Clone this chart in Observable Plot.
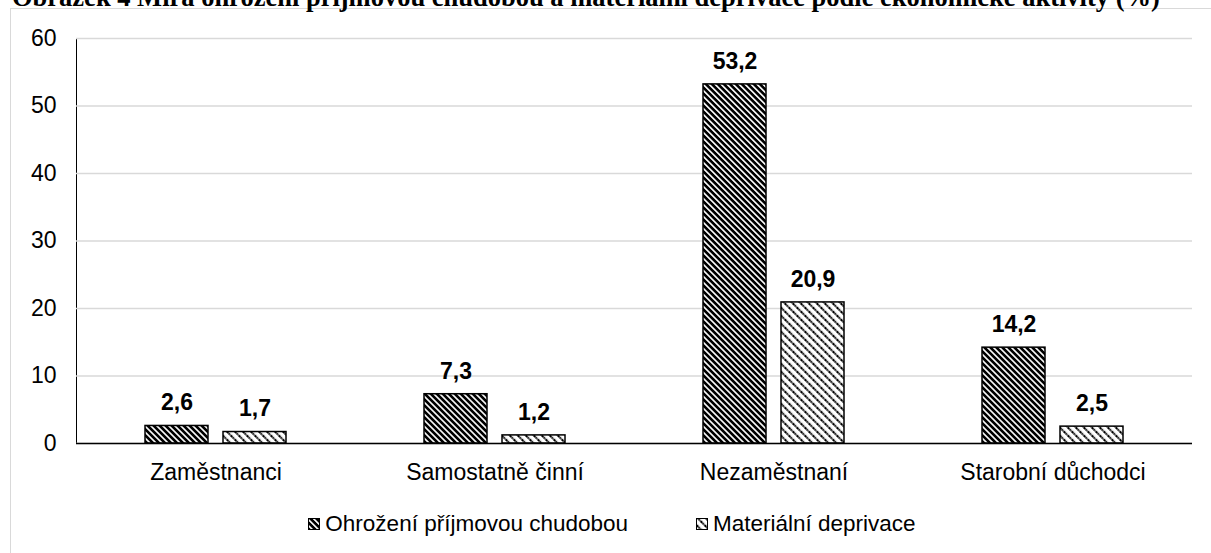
<!DOCTYPE html>
<html><head><meta charset="utf-8">
<script src="https://cdn.jsdelivr.net/npm/d3@7"></script>
<script src="https://cdn.jsdelivr.net/npm/@observablehq/plot@0.6"></script>
<style>
body{margin:0;width:1211px;height:553px;overflow:hidden;position:relative;background:#fff;font-family:"Liberation Sans",Arial,sans-serif;}
#frame{position:absolute;left:10px;top:8px;width:1300px;height:700px;border:1.5px solid #d9d9d9;box-sizing:border-box;}
#title{position:absolute;left:12px;top:-18px;font:bold 26.5px "Liberation Serif","Times New Roman",serif;white-space:nowrap;color:#000;line-height:normal;}
#chart{position:absolute;left:0;top:0;}
#legend{position:absolute;left:10px;width:1204px;top:511px;height:26px;display:flex;justify-content:center;align-items:center;gap:68px;font-size:22.5px;color:#000;}
.item{display:flex;align-items:center;}
.item svg{margin-right:5px;}
</style></head>
<body>
<svg width="0" height="0" style="position:absolute">
  <defs>
    <pattern id="pat1" width="4.24" height="4.24" patternUnits="userSpaceOnUse" patternTransform="rotate(-45)">
      <rect width="4.24" height="4.24" fill="#fff"/>
      <rect width="2.6" height="4.24" fill="#000"/>
    </pattern>
    <pattern id="pat2" width="5.66" height="5.66" patternUnits="userSpaceOnUse" patternTransform="rotate(-45)">
      <rect width="5.66" height="5.66" fill="#fff"/>
      <rect width="2" height="5.66" fill="#777"/>
      <rect width="2" height="2" fill="#000"/>
      <rect y="2.83" width="2" height="1.2" fill="#222"/>
    </pattern>
  </defs>
</svg>
<div id="frame"></div>
<div id="title">Obrázek 4 Míra ohrožení příjmovou chudobou a materiální deprivace podle ekonomické aktivity (%)</div>
<div id="chart"></div>
<div id="legend"></div>
<script>
const categories = ["Zaměstnanci", "Samostatně činní", "Nezaměstnaní", "Starobní důchodci"];
const seriesNames = ["Ohrožení příjmovou chudobou", "Materiální deprivace"];
const poverty = [2.6, 7.3, 53.2, 14.2];
const deprivation = [1.7, 1.2, 20.9, 2.5];
const yTicks = [0, 10, 20, 30, 40, 50, 60];
const patterns = ["url(#pat1)", "url(#pat2)"];

const data = categories.flatMap((c, i) => [
  {category: c, series: seriesNames[0], value: poverty[i]},
  {category: c, series: seriesNames[1], value: deprivation[i]}
]);
const fmt = v => v.toFixed(1).replace(".", ",");

const chart = Plot.plot({
  width: 1211, height: 500,
  marginLeft: 74, marginRight: 18, marginTop: 38, marginBottom: 57,
  style: {fontFamily: "'Liberation Sans', Arial, sans-serif", fontSize: "23px", color: "#000", background: "transparent", overflow: "visible"},
  fx: {domain: categories, padding: 0, label: null, tickSize: 0, tickPadding: 20},
  x: {domain: seriesNames, paddingInner: 0.19, paddingOuter: 0.867, axis: null},
  y: {domain: [0, 60], ticks: yTicks, label: null, tickSize: 0, tickPadding: 20, line: true},
  color: {domain: seriesNames, range: patterns},
  marks: [
    Plot.gridY(yTicks, {stroke: "#d9d9d9", strokeOpacity: 1, strokeWidth: 1.5}),
    Plot.barY(data, {fx: "category", x: "series", y: "value", fill: "series", stroke: "#000", strokeWidth: 1.5}),
    Plot.ruleY([0], {stroke: "#000", strokeWidth: 1.5}),
    Plot.text(data, {fx: "category", x: "series", y: "value", text: d => fmt(d.value), dy: -23, fontWeight: "bold", fontSize: 23})
  ]
});
document.getElementById("chart").appendChild(chart);

const legend = document.getElementById("legend");
seriesNames.forEach((s, i) => {
  const item = document.createElement("div");
  item.className = "item";
  item.innerHTML = `<svg width="12" height="12"><rect x="0.5" y="0.5" width="11" height="11" fill="${patterns[i]}" stroke="#000" stroke-width="1"/></svg><span>${s}</span>`;
  legend.appendChild(item);
});
</script>
</body></html>
